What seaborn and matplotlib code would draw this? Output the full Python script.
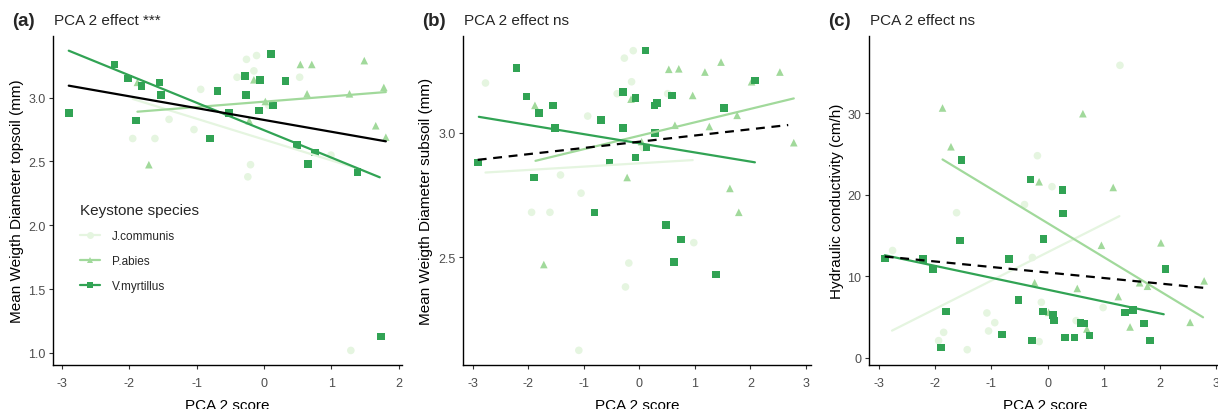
import numpy as np
import pandas as pd
import matplotlib
matplotlib.use("Agg")
import matplotlib.pyplot as plt
from matplotlib.lines import Line2D
import seaborn as sns

sns.set_theme(style="ticks")
plt.rcParams["font.family"] = ["Liberation Sans", "DejaVu Sans"]

species = ["J.communis", "P.abies", "V.myrtillus"]
palette = {"J.communis": "#e5f5e0", "P.abies": "#a1d99b", "V.myrtillus": "#31a354"}
markers = {"J.communis": "o", "P.abies": "^", "V.myrtillus": "s"}

# ---- (a) topsoil MWD ----
top_jc_x = [-1.95, -1.62, -1.41, -1.04, -0.94, -0.40, -0.26, -0.15, -0.11, -0.20, -0.24, 0.07, 0.53, 0.995, 1.29]
top_jc_y = [2.68, 2.68, 2.83, 2.75, 3.065, 3.16, 3.30, 3.21, 3.33, 2.475, 2.38, 2.94, 3.16, 2.55, 1.02]
top_pa_x = [-1.88, -1.71, -0.15, -0.22, 0.02, 0.54, 0.64, 0.71, 1.27, 1.49, 1.66, 1.78, 1.81]
top_pa_y = [3.12, 2.475, 3.14, 2.82, 2.97, 3.26, 3.03, 3.26, 3.03, 3.29, 2.78, 3.08, 2.69]
top_vm_x = [-2.90, -2.22, -2.02, -1.82, -1.90, -1.55, -1.53, -0.69, -0.80, -0.52, -0.28, -0.27,
            -0.06, -0.07, 0.10, 0.13, 0.32, 0.49, 0.65, 0.76, 1.39, 1.74]
top_vm_y = [2.88, 3.26, 3.15, 3.09, 2.82, 3.12, 3.02, 3.05, 2.68, 2.88, 3.17, 3.02,
            3.14, 2.90, 3.34, 2.94, 3.13, 2.63, 2.48, 2.57, 2.42, 1.13]
# fitted values at the ends of each group's PCA 2 range
top_fit_x = {"J.communis": [-1.95, 1.36], "P.abies": [-1.88, 1.81], "V.myrtillus": [-2.90, 1.72], "all": [-2.90, 1.81]}
top_fit_y = {"J.communis": [2.99, 2.45], "P.abies": [2.89, 3.044], "V.myrtillus": [3.368, 2.376], "all": [3.094, 2.658]}

# ---- (b) subsoil MWD ----
sub_jc_x = [-2.77, -1.94, -1.61, -1.42, -1.05, -0.93, -1.09, -0.40, -0.27, -0.11, -0.14, -0.19, -0.25, 0.07, 0.51, 0.98]
sub_jc_y = [3.20, 2.68, 2.68, 2.83, 2.757, 3.067, 2.125, 3.157, 3.30, 3.33, 3.205, 2.476, 2.38, 2.94, 3.157, 2.558]
sub_pa_x = [-1.88, -1.72, -0.22, -0.15, 0.04, 0.53, 0.71, 0.64, 0.96, 1.18, 1.26, 1.47, 1.63, 1.76, 1.79, 2.02, 2.53, 2.78]
sub_pa_y = [3.11, 2.47, 2.82, 3.135, 2.964, 3.255, 3.257, 3.03, 3.15, 3.244, 3.025, 3.284, 2.776, 3.07, 2.68, 3.205, 3.244, 2.96]
sub_vm_x = [-2.91, -2.21, -2.03, -1.90, -1.81, -1.56, -1.52, -0.81, -0.69, -0.54, -0.29, -0.29, -0.07,
            -0.07, 0.11, 0.13, 0.28, 0.27, 0.32, 0.48, 0.59, 0.62, 0.75, 1.38, 1.52, 2.08]
sub_vm_y = [2.88, 3.26, 3.145, 2.82, 3.08, 3.11, 3.02, 2.68, 3.05, 2.88, 3.165, 3.02, 3.14,
            2.90, 3.33, 2.94, 3.0, 3.11, 3.12, 2.63, 3.15, 2.48, 2.57, 2.43, 3.10, 3.21]
sub_fit_x = {"J.communis": [-2.77, 0.96], "P.abies": [-1.87, 2.78], "V.myrtillus": [-2.89, 2.08], "all": [-2.91, 2.68]}
sub_fit_y = {"J.communis": [2.84, 2.89], "P.abies": [2.887, 3.138], "V.myrtillus": [3.064, 2.881], "all": [2.891, 3.031]}

# ---- (c) hydraulic conductivity ----
hyd_jc_x = [-2.76, -1.94, -1.85, -1.62, -1.43, -1.08, -1.05, -0.94, -0.41, -0.27, -0.18, -0.15, -0.11, 0.08, 0.51, 0.99, 1.29]
hyd_jc_y = [13.16, 2.09, 3.11, 17.8, 0.98, 5.49, 3.28, 4.3, 18.8, 12.3, 24.8, 1.97, 6.8, 21.0, 4.55, 6.15, 35.9]
hyd_pa_x = [-1.87, -1.72, -0.23, -0.15, 0.02, 0.53, 0.63, 0.70, 0.96, 1.17, 1.26, 1.47, 1.64, 1.78, 2.02, 2.54, 2.79]
hyd_pa_y = [30.66, 25.9, 9.2, 21.6, 5.57, 8.5, 29.96, 3.52, 13.8, 20.9, 7.5, 3.77, 9.2, 8.77, 14.1, 4.34, 9.43]
hyd_vm_x = [-2.90, -2.22, -2.04, -1.81, -1.90, -1.53, -1.56, -0.69, -0.52, -0.81, -0.30, -0.28, -0.07, -0.08,
            0.10, 0.11, 0.27, 0.28, 0.31, 0.48, 0.59, 0.65, 0.75, 1.38, 1.52, 1.72, 1.82, 2.10]
hyd_vm_y = [12.2, 12.1, 10.9, 5.66, 1.23, 24.3, 14.4, 12.1, 7.1, 2.83, 21.9, 2.09, 14.6, 5.66,
            5.25, 4.55, 20.6, 17.7, 2.5, 2.46, 4.26, 4.18, 2.7, 5.57, 5.86, 4.18, 2.09, 10.9]
hyd_fit_x = {"J.communis": [-2.77, 1.28], "P.abies": [-1.87, 2.77], "V.myrtillus": [-2.90, 2.07], "all": [-2.90, 2.79]}
hyd_fit_y = {"J.communis": [3.32, 17.38], "P.abies": [24.34, 4.96], "V.myrtillus": [12.58, 5.33], "all": [12.42, 8.57]}


def points_frame(jx, jy, px, py, vx, vy):
    return pd.DataFrame({
        "pca2": jx + px + vx,
        "value": jy + py + vy,
        "species": ["J.communis"] * len(jx) + ["P.abies"] * len(px) + ["V.myrtillus"] * len(vx),
    })


def fit_frame(fx, fy):
    rows = []
    for key in fx:
        for x, y in zip(fx[key], fy[key]):
            rows.append({"pca2": x, "fit": y, "group": key})
    return pd.DataFrame(rows)


panels = [
    dict(letter="(a)", effect="PCA 2 effect ***", ylabel="Mean Weigth Diameter topsoil (mm)",
         pts=points_frame(top_jc_x, top_jc_y, top_pa_x, top_pa_y, top_vm_x, top_vm_y),
         fit=fit_frame(top_fit_x, top_fit_y), overall_dash=False,
         xlim=(-3.134, 2.05), ylim=(0.906, 3.483), xticks=[-3, -2, -1, 0, 1, 2],
         yticks=[1.0, 1.5, 2.0, 2.5, 3.0], yfmt="{:.1f}", px=(53, 402), ylab_x=-0.083),
    dict(letter="(b)", effect="PCA 2 effect ns", ylabel="Mean Weigth Diameter subsoil (mm)",
         pts=points_frame(sub_jc_x, sub_jc_y, sub_pa_x, sub_pa_y, sub_vm_x, sub_vm_y),
         fit=fit_frame(sub_fit_x, sub_fit_y), overall_dash=True,
         xlim=(-3.175, 3.09), ylim=(2.066, 3.389), xticks=[-3, -2, -1, 0, 1, 2, 3],
         yticks=[2.5, 3.0], yfmt="{:.1f}", px=(463, 811), ylab_x=-0.085),
    dict(letter="(c)", effect="PCA 2 effect ns", ylabel="Hydraulic conductivity (cm/h)",
         pts=points_frame(hyd_jc_x, hyd_jc_y, hyd_pa_x, hyd_pa_y, hyd_vm_x, hyd_vm_y),
         fit=fit_frame(hyd_fit_x, hyd_fit_y), overall_dash=True,
         xlim=(-3.18, 3.09), ylim=(-0.9, 39.5), xticks=[-3, -2, -1, 0, 1, 2, 3],
         yticks=[0, 10, 20, 30], yfmt="{:.0f}", px=(869, 1221), ylab_x=-0.072),
]

W, H = 1218, 410
fig = plt.figure(figsize=(W / 100, H / 100), dpi=100)
top_px, bot_px = 37, 366
text_grey = "#4d4d4d"

for p in panels:
    l, r = p["px"]
    ax = fig.add_axes([l / W, (H - bot_px) / H, (r - l) / W, (bot_px - top_px) / H])
    sns.scatterplot(data=p["pts"], x="pca2", y="value", hue="species", style="species",
                    palette=palette, markers=markers, hue_order=species, style_order=species,
                    s=30, linewidth=0, legend=False, ax=ax, zorder=2)
    fit = p["fit"]
    sp_fit = fit[fit["group"] != "all"]
    sns.lineplot(data=sp_fit, x="pca2", y="fit", hue="group", palette=palette,
                 hue_order=species, linewidth=1.6, legend=False, ax=ax, zorder=3,
                 estimator=None, sort=False)
    all_fit = fit[fit["group"] == "all"]
    sns.lineplot(data=all_fit, x="pca2", y="fit", color="black", linewidth=1.6,
                 linestyle=(0, (4, 3)) if p["overall_dash"] else "-",
                 legend=False, ax=ax, zorder=4, estimator=None, sort=False)

    ax.set_xlim(*p["xlim"])
    ax.set_ylim(*p["ylim"])
    ax.set_xticks(p["xticks"])
    ax.set_xticklabels([f"{t:d}" for t in p["xticks"]])
    ax.set_yticks(p["yticks"])
    ax.set_yticklabels([p["yfmt"].format(t) for t in p["yticks"]])
    for s in ["top", "right"]:
        ax.spines[s].set_visible(False)
    for s in ["left", "bottom"]:
        ax.spines[s].set_color("black")
        ax.spines[s].set_linewidth(1.0)
    ax.tick_params(axis="both", length=3, width=0.8, color="#333333",
                   labelcolor=text_grey, labelsize=9)
    ax.tick_params(axis="x", pad=5.5)
    ax.tick_params(axis="y", pad=2.5)
    ax.set_xlabel("PCA 2 score", fontsize=11, color="black")
    ax.xaxis.set_label_coords(0.5, -0.1)
    ax.set_ylabel(p["ylabel"], fontsize=11, color="black")
    ax.yaxis.set_label_coords(p["ylab_x"], 0.5)
    ax.grid(False)

    fig.text((l - 41) / W, 1 - 21 / H, p["letter"], fontsize=13.5, fontweight="bold",
             ha="left", va="center")
    fig.text((l + 1) / W, 1 - 21 / H, p["effect"], fontsize=11, ha="left", va="center")

    if p["letter"] == "(a)":
        handles = [Line2D([0], [0], color=palette[sp], marker=markers[sp], markersize=5,
                          markeredgewidth=0, linewidth=1.6) for sp in species]
        leg = ax.legend(handles, species, title="Keystone species", frameon=False,
                        loc="upper left", bbox_to_anchor=((75 - l) / (r - l), (bot_px - 199) / (bot_px - top_px)),
                        fontsize=8.5, title_fontsize=11, handlelength=1.7, handletextpad=1.0,
                        labelspacing=1.1, alignment="left", borderaxespad=0)

fig.savefig("out.png", dpi=100)
